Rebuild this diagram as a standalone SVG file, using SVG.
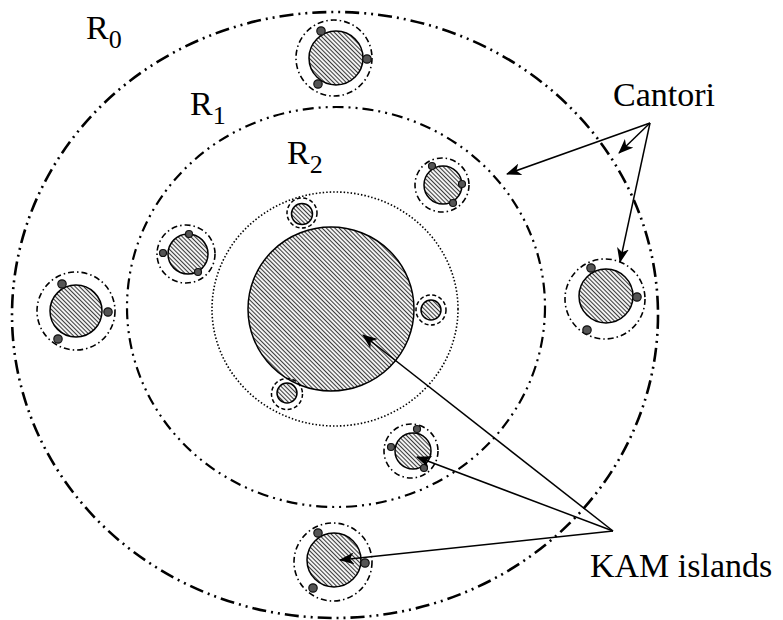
<svg xmlns="http://www.w3.org/2000/svg" width="783" height="620" viewBox="0 0 783 620">
<defs>
<pattern id="hatch" width="3" height="3" patternUnits="userSpaceOnUse" patternTransform="rotate(-45)">
<rect width="3" height="3" fill="#f2f2f2"/>
<line x1="0.5" y1="0" x2="0.5" y2="3" stroke="#3a3a3a" stroke-width="1"/>
</pattern>
<marker id="arr" markerWidth="16" markerHeight="12" refX="14" refY="6" orient="auto" markerUnits="userSpaceOnUse">
<path d="M0,0 L15,6 L0,12 L4,6 z" fill="#000"/>
</marker>
</defs>
<style>
.r0{fill:none;stroke:#000;stroke-width:2.6;stroke-dasharray:14 5 2 5 2 5}
.r1{fill:none;stroke:#000;stroke-width:2.2;stroke-dasharray:11 5 2 5 2 5}
.r2{fill:none;stroke:#000;stroke-width:1.6;stroke-dasharray:1.5 2}
.isl{fill:url(#hatch);stroke:#000;stroke-width:1.5}
.dd{fill:none;stroke:#000;stroke-width:1.6;stroke-dasharray:6 3 1.5 3}
.ds{fill:none;stroke:#000;stroke-width:1.5;stroke-dasharray:4 2.5}
.dot{fill:#555;stroke:#111;stroke-width:1.2}
.lbl{font-family:"Liberation Serif","Times New Roman",serif;font-size:34px;fill:#000}
.sub{font-size:26px}
.con{fill:none;stroke:#000;stroke-width:1.5;marker-end:url(#arr)}
</style>
<rect width="783" height="620" fill="#fff"/>

<g id="regions">
<ellipse class="r0" cx="335" cy="315" rx="323" ry="303"/>
<ellipse class="r1" cx="336" cy="307" rx="209" ry="200"/>
<ellipse class="r2" cx="335" cy="309" rx="123" ry="117"/>
</g>

<g id="central-island">
<ellipse class="isl" cx="331" cy="309" rx="83" ry="82"/>
</g>

<g id="island-top">
<circle class="dd" cx="334" cy="58" r="38"/>
<circle class="isl" cx="336" cy="58" r="27"/>
<circle class="dot" cx="321" cy="31" r="4.2"/>
<circle class="dot" cx="367" cy="59" r="4.2"/>
<circle class="dot" cx="318" cy="84" r="4.2"/>
</g>

<g id="island-left">
<circle class="dd" cx="76" cy="311" r="39"/>
<circle class="isl" cx="76" cy="311" r="26"/>
<circle class="dot" cx="62" cy="284" r="4.2"/>
<circle class="dot" cx="108" cy="312" r="4.2"/>
<circle class="dot" cx="58" cy="339" r="4.2"/>
</g>

<g id="island-right">
<circle class="dd" cx="605" cy="299" r="40"/>
<circle class="isl" cx="606" cy="296" r="27"/>
<circle class="dot" cx="591" cy="268" r="4.2"/>
<circle class="dot" cx="637" cy="297" r="4.2"/>
<circle class="dot" cx="587" cy="330" r="4.2"/>
</g>

<g id="island-bottom">
<circle class="dd" cx="333" cy="562" r="39"/>
<circle class="isl" cx="334" cy="560" r="27"/>
<circle class="dot" cx="318" cy="533" r="4.2"/>
<circle class="dot" cx="365" cy="563" r="4.2"/>
<circle class="dot" cx="313" cy="588" r="4.2"/>
</g>

<g id="island-midleft">
<circle class="dd" cx="186" cy="254" r="29"/>
<circle class="isl" cx="188" cy="254" r="20"/>
<circle class="dot" cx="189" cy="234" r="3.5"/>
<circle class="dot" cx="163" cy="253" r="3.5"/>
<circle class="dot" cx="198" cy="272" r="3.5"/>
</g>

<g id="island-upperright">
<circle class="dd" cx="442" cy="185" r="27"/>
<circle class="isl" cx="443" cy="185" r="19"/>
<circle class="dot" cx="432" cy="166" r="3.5"/>
<circle class="dot" cx="462" cy="184" r="3.5"/>
<circle class="dot" cx="453" cy="203" r="3.5"/>
</g>

<g id="island-lowerright">
<circle class="dd" cx="411" cy="451" r="27"/>
<circle class="isl" cx="413" cy="451" r="18"/>
<circle class="dot" cx="417" cy="429" r="3.5"/>
<circle class="dot" cx="391" cy="447" r="3.5"/>
<circle class="dot" cx="424" cy="468" r="3.5"/>
</g>

<g id="island-small-top">
<circle class="ds" cx="302" cy="213" r="15"/>
<circle class="isl" cx="302" cy="214" r="10.5"/>
</g>
<g id="island-small-bottom">
<circle class="ds" cx="287" cy="394" r="15.5"/>
<circle class="isl" cx="287" cy="393" r="10"/>
</g>
<g id="island-small-right">
<circle class="ds" cx="431" cy="310" r="15"/>
<circle class="isl" cx="431" cy="310" r="10"/>
</g>

<g id="connectors">
<line class="con" x1="650" y1="123" x2="507" y2="174"/>
<line class="con" x1="650" y1="123" x2="619" y2="153"/>
<line class="con" x1="650" y1="123" x2="620" y2="262"/>
<line class="con" x1="613" y1="531" x2="363" y2="335"/>
<line class="con" x1="613" y1="531" x2="417" y2="457"/>
<line class="con" x1="613" y1="531" x2="340" y2="560"/>
</g>

<g id="labels">
<text class="lbl" x="86" y="39">R<tspan class="sub" dy="9">0</tspan></text>
<text class="lbl" x="190" y="115">R<tspan class="sub" dy="9">1</tspan></text>
<text class="lbl" x="287" y="164">R<tspan class="sub" dy="9">2</tspan></text>
<text class="lbl" x="613" y="106">Cantori</text>
<text class="lbl" x="590" y="577">KAM islands</text>
</g>
</svg>
